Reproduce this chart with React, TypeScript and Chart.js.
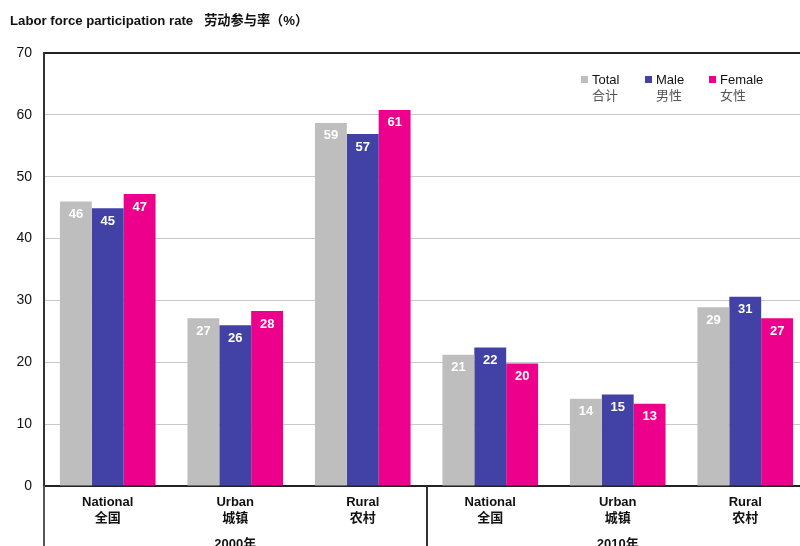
import React, { useEffect, useRef } from "react";
import { Chart, registerables } from "chart.js";

Chart.register(...registerables);

const titleText = "Labor force participation rate   劳动参与率（%）";
const categories = [
  ["National", "全国"],
  ["Urban", "城镇"],
  ["Rural", "农村"],
  ["National", "全国"],
  ["Urban", "城镇"],
  ["Rural", "农村"],
];
const years = ["2000年", "2010年"];
const seriesNames = ["Total", "Male", "Female"];
const seriesNamesZh = ["合计", "男性", "女性"];
const seriesColors = ["#BEBEBE", "#4141A6", "#EC008C"];
const totalValues = [46.0, 27.1, 58.7, 21.2, 14.1, 28.9];
const maleValues = [44.9, 26.0, 56.9, 22.4, 14.8, 30.6];
const femaleValues = [47.2, 28.3, 60.8, 19.8, 13.3, 27.1];
const yTicks = [0, 10, 20, 30, 40, 50, 60, 70];

const FONT = "'Liberation Sans', 'Noto Sans CJK SC', Arial, sans-serif";

const overlay = {
  id: "overlay",
  afterDatasetsDraw(chart: any) {
    const ctx = chart.ctx;
    ctx.save();
    ctx.font = `bold 13px ${FONT}`;
    ctx.fillStyle = "#ffffff";
    ctx.textAlign = "center";
    ctx.textBaseline = "middle";
    chart.data.datasets.forEach((ds: any, i: number) => {
      const meta = chart.getDatasetMeta(i);
      meta.data.forEach((bar: any, j: number) => {
        const v = ds.data[j] as number;
        ctx.fillText(String(Math.round(v)), bar.x, bar.y + 13);
      });
    });
    ctx.restore();
  },
  afterDraw(chart: any) {
    const ctx = chart.ctx;
    const area = chart.chartArea;
    const xs = chart.scales.x;
    ctx.save();
    // title
    ctx.font = `bold 13.2px ${FONT}`;
    ctx.fillStyle = "#111";
    ctx.textAlign = "left";
    ctx.textBaseline = "middle";
    ctx.fillText(titleText, 10, 21);

    // legend
    seriesNames.forEach((name, i) => {
      const x = 581 + i * 64;
      ctx.fillStyle = seriesColors[i];
      ctx.fillRect(x, 76, 7, 7);
      ctx.font = `13px ${FONT}`;
      ctx.fillStyle = "#111";
      ctx.textAlign = "left";
      ctx.textBaseline = "middle";
      ctx.fillText(name, x + 11, 80);
      ctx.fillStyle = "#555";
      ctx.fillText(seriesNamesZh[i], x + 11, 96);
    });

    // separators below axis
    const h = chart.height;
    ctx.strokeStyle = "#555";
    ctx.lineWidth = 2;
    ctx.beginPath();
    ctx.moveTo(area.left, area.bottom);
    ctx.lineTo(area.left, h);
    ctx.stroke();
    const sepX = Math.round(xs.getPixelForValue(2.5));
    ctx.strokeStyle = "#333";
    ctx.beginPath();
    ctx.moveTo(sepX, area.bottom);
    ctx.lineTo(sepX, h);
    ctx.stroke();

    // year labels
    ctx.font = `bold 13px ${FONT}`;
    ctx.fillStyle = "#111";
    ctx.textAlign = "center";
    ctx.textBaseline = "middle";
    years.forEach((y, i) => {
      const cx = xs.getPixelForValue(1 + i * 3);
      ctx.fillText(y, cx, 544);
    });
    ctx.restore();
  },
};

export default function App() {
  const ref = useRef<HTMLCanvasElement>(null);
  useEffect(() => {
    if (!ref.current) return;
    const chart = new Chart(ref.current, {
      type: "bar",
      data: {
        labels: categories,
        datasets: [
          { label: seriesNames[0], data: totalValues, backgroundColor: seriesColors[0] },
          { label: seriesNames[1], data: maleValues, backgroundColor: seriesColors[1] },
          { label: seriesNames[2], data: femaleValues, backgroundColor: seriesColors[2] },
        ],
      },
      options: {
        responsive: false,
        animation: false,
        layout: { padding: { top: 53, left: 0, right: 0, bottom: 0 } },
        plugins: { legend: { display: false }, tooltip: { enabled: false }, title: { display: false } },
        datasets: { bar: { categoryPercentage: 0.75, barPercentage: 1.0, borderWidth: 0 } },
        scales: {
          x: {
            grid: { display: false, drawTicks: false },
            border: { display: true, color: "#222", width: 2 },
            ticks: {
              color: "#111",
              font: { family: FONT, size: 13, weight: "bold" },
              padding: 9,
              maxRotation: 0,
              autoSkip: false,
            },
            afterFit: (s: any) => {
              s.height = 60;
            },
          },
          y: {
            min: 0,
            max: 70,
            afterBuildTicks: (s: any) => {
              s.ticks = yTicks.map((v) => ({ value: v }));
            },
            grid: {
              drawTicks: false,
              color: (c: any) => (c.tick && (c.tick.value === 70 || c.tick.value === 0) ? "#222" : "#C8C8C8"),
              lineWidth: (c: any) => (c.tick && c.tick.value === 70 ? 2 : 1),
            },
            border: { display: true, color: "#333", width: 2 },
            ticks: {
              color: "#111",
              font: { family: FONT, size: 14 },
              padding: 12,
            },
            afterFit: (s: any) => {
              s.width = 44;
            },
          },
        },
      },
      plugins: [overlay],
    });
    return () => chart.destroy();
  }, []);
  return (
    <div
      style={{
        position: "fixed",
        left: 0,
        top: 0,
        width: 800,
        height: 546,
        overflow: "hidden",
        background: "#fff",
      }}
    >
      <canvas ref={ref} width={809} height={546} style={{ display: "block" }} />
    </div>
  );
}
